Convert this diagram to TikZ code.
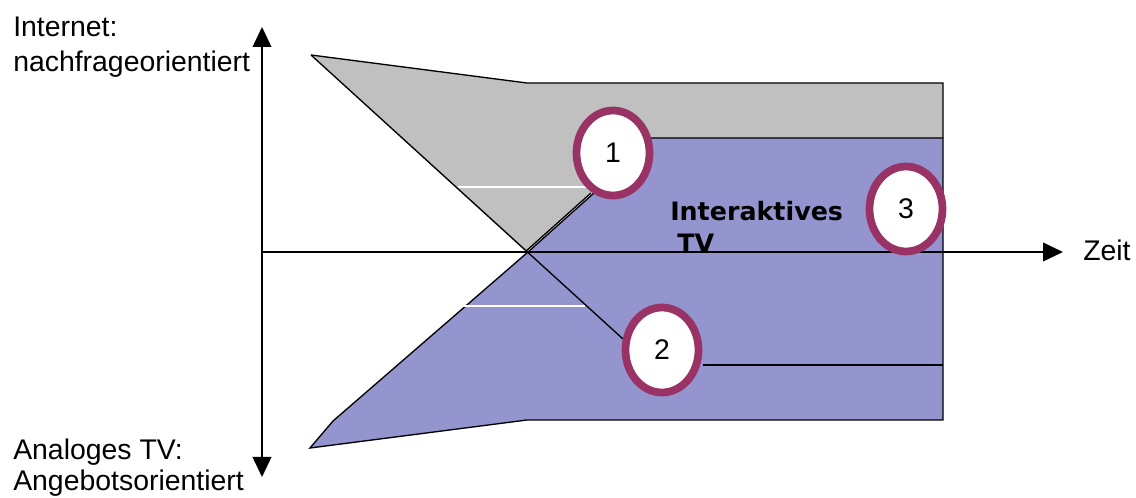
\documentclass[tikz,border=0pt]{standalone}
\usepackage{fontspec}
\setmainfont{Liberation Sans}
\newfontfamily\boldfont{DejaVu Sans Bold}
\usetikzlibrary{arrows.meta}
\definecolor{greyfill}{HTML}{C0C0C0}
\definecolor{bluefill}{HTML}{9494CE}
\definecolor{ringcol}{HTML}{993366}
\tikzset{
  axis/.style={line width=1.3pt, -{Triangle[length=15pt,width=14pt]}},
  edge/.style={line width=1pt, black},
  whiteline/.style={line width=0.9pt, white},
  ringstyle/.style={draw=ringcol, fill=white, line width=5.8pt},
  lbl/.style={font=\fontsize{21.3}{26}\selectfont, inner sep=0pt, anchor=base west},
  numlbl/.style={font=\fontsize{21.3}{26}\selectfont, inner sep=0pt},
  boldlbl/.style={font=\boldfont\fontsize{19}{24}\selectfont, inner sep=0pt, anchor=base west}
}
\begin{document}
\begin{tikzpicture}[x=0.75pt,y=-0.75pt]
\useasboundingbox (0,0) rectangle (1136,498);
% grey region
\fill[greyfill] (311,55) -- (527,83) -- (943,83) -- (943,138) -- (640,138) -- (591,193) -- (526,252) -- cycle;
\draw[edge] (311,55) -- (527,83) -- (943,83) -- (943,138);
% blue region
\fill[bluefill] (528,252) -- (594,193) -- (645,138) -- (943,138) -- (943,420) -- (527,420) -- (310,448) -- (333,421) -- cycle;
\draw[edge] (645,138) -- (943,138) -- (943,420) -- (527,420) -- (310,448) -- (333,421) -- (528,252) -- (594,193);
\draw[edge] (525,252) -- (591,193);
% white lines
\draw[whiteline] (458,187) -- (590,187);
\draw[whiteline] (463,306) -- (585,306);
% connectors
\coordinate (tl) at (311,55);
\coordinate (c2end) at (623,339);
\coordinate (r2) at (943,365);
\coordinate (c2r) at (703,365);
\draw[edge] (tl) -- (c2end);
\draw[edge] (c2r) -- (r2);
% axes
\coordinate (ax0) at (262,252);
\coordinate (axR) at (1063,252);
\coordinate (axB) at (262,477);
\coordinate (axT) at (262,27);
\draw[axis] (ax0) -- (axR);
\draw[axis, {Triangle[length=15pt,width=14pt]}-{Triangle[length=15pt,width=14pt]}] (axB) -- (axT);
% circles
\draw[ringstyle] (613,153) ellipse [x radius=36.5, y radius=42.5];
\draw[ringstyle] (662,350) ellipse [x radius=36.5, y radius=42.5];
\draw[ringstyle] (906,209) ellipse [x radius=36.5, y radius=42.5];
\node[numlbl] (n1) at (613,153) {1};
\node[numlbl] (n2) at (662,350) {2};
\node[numlbl] (n3) at (906,209) {3};
% labels
\node[lbl] (int1) at (13,37) {Internet:};
\node[lbl] (int2) at (13,72) {nachfrageorientiert};
\node[lbl] (ana1) at (13,460) {Analoges TV:};
\node[lbl] (ana2) at (13,491) {Angebotsorientiert};
\node[lbl] (zeit) at (1083,261) {Zeit};
\node[boldlbl] (itv1) at (670,221) {Interaktives};
\node[boldlbl] (itv2) at (677,253) {TV};
\end{tikzpicture}
\end{document}
